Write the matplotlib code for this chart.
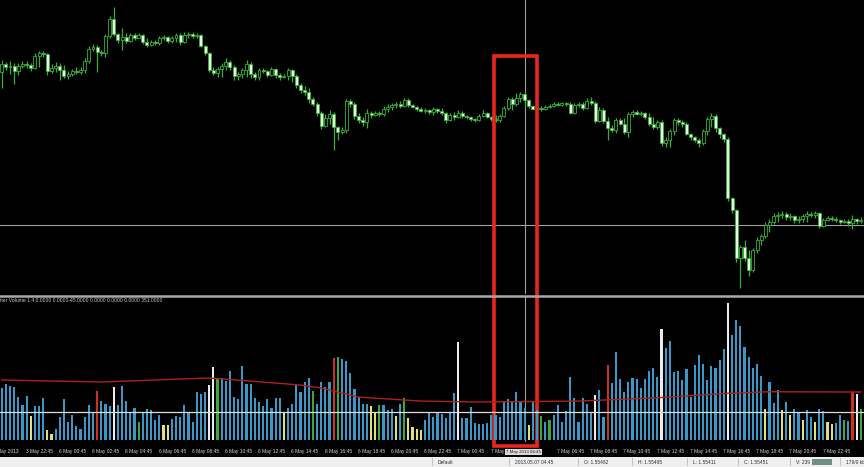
import matplotlib.pyplot as plt
import matplotlib.transforms as mtransforms
from matplotlib.patches import Rectangle
from matplotlib.lines import Line2D

plt.rcParams['font.family'] = ['Liberation Sans', 'DejaVu Sans']

# ----------------------------
# データ（GBPUSD 15分足）
# ----------------------------
opens = [1.55590, 1.55630, 1.55615, 1.55620, 1.55595, 1.55620, 1.55630, 1.55625, 1.55610, 1.55670,
         1.55685, 1.55680, 1.55595, 1.55610, 1.55620, 1.55600, 1.55570, 1.55580, 1.55595, 1.55590,
         1.55600, 1.55645, 1.55705, 1.55715, 1.55690, 1.55685, 1.55770, 1.55855, 1.55780, 1.55750,
         1.55765, 1.55745, 1.55775, 1.55760, 1.55775, 1.55740, 1.55725, 1.55740, 1.55735, 1.55760,
         1.55765, 1.55745, 1.55760, 1.55775, 1.55740, 1.55775, 1.55780, 1.55770, 1.55775, 1.55720,
         1.55685, 1.55600, 1.55585, 1.55605, 1.55620, 1.55640, 1.55615, 1.55570, 1.55580, 1.55600,
         1.55630, 1.55580, 1.55565, 1.55600, 1.55595, 1.55575, 1.55605, 1.55575, 1.55565, 1.55570,
         1.55600, 1.55570, 1.55525, 1.55500, 1.55490, 1.55455, 1.55430, 1.55385, 1.55320, 1.55360,
         1.55380, 1.55315, 1.55290, 1.55300, 1.55445, 1.55430, 1.55370, 1.55350, 1.55340, 1.55385,
         1.55375, 1.55385, 1.55380, 1.55405, 1.55415, 1.55425, 1.55430, 1.55420, 1.55450, 1.55425,
         1.55415, 1.55405, 1.55395, 1.55400, 1.55390, 1.55405, 1.55395, 1.55385, 1.55350, 1.55375,
         1.55365, 1.55385, 1.55370, 1.55365, 1.55355, 1.55350, 1.55370, 1.55385, 1.55365, 1.55355,
         1.55350, 1.55370, 1.55410, 1.55455, 1.55430, 1.55460, 1.55482, 1.55450, 1.55420, 1.55405,
         1.55410, 1.55405, 1.55415, 1.55420, 1.55430, 1.55425, 1.55435, 1.55430, 1.55385, 1.55425,
         1.55430, 1.55410, 1.55445, 1.55435, 1.55345, 1.55400, 1.55345, 1.55310, 1.55300, 1.55350,
         1.55330, 1.55290, 1.55380, 1.55390, 1.55380, 1.55385, 1.55365, 1.55330, 1.55315, 1.55340,
         1.55235, 1.55250, 1.55295, 1.55350, 1.55340, 1.55330, 1.55280, 1.55265, 1.55250, 1.55235,
         1.55295, 1.55355, 1.55370, 1.55310, 1.55280, 1.55255, 1.54960, 1.54900, 1.54660, 1.54715,
         1.54660, 1.54600, 1.54700, 1.54750, 1.54770, 1.54825, 1.54840, 1.54870, 1.54875, 1.54880,
         1.54865, 1.54870, 1.54850, 1.54855, 1.54870, 1.54880, 1.54875, 1.54885, 1.54820, 1.54850,
         1.54860, 1.54855, 1.54850, 1.54840, 1.54845, 1.54835, 1.54855, 1.54845]
highs = [1.55650, 1.55640, 1.55645, 1.55635, 1.55635, 1.55645, 1.55645, 1.55635, 1.55685, 1.55695,
         1.55695, 1.55685, 1.55630, 1.55640, 1.55635, 1.55625, 1.55595, 1.55605, 1.55615, 1.55615,
         1.55660, 1.55720, 1.55730, 1.55725, 1.55700, 1.55780, 1.55870, 1.55915, 1.55785, 1.55810,
         1.55785, 1.55785, 1.55785, 1.55785, 1.55780, 1.55760, 1.55750, 1.55750, 1.55770, 1.55775,
         1.55770, 1.55770, 1.55785, 1.55785, 1.55790, 1.55790, 1.55790, 1.55785, 1.55780, 1.55725,
         1.55690, 1.55615, 1.55615, 1.55635, 1.55660, 1.55650, 1.55625, 1.55590, 1.55610, 1.55650,
         1.55640, 1.55590, 1.55610, 1.55610, 1.55600, 1.55615, 1.55610, 1.55585, 1.55580, 1.55610,
         1.55605, 1.55580, 1.55535, 1.55520, 1.55510, 1.55465, 1.55440, 1.55395, 1.55380, 1.55400,
         1.55390, 1.55320, 1.55315, 1.55455, 1.55455, 1.55440, 1.55385, 1.55365, 1.55405, 1.55395,
         1.55395, 1.55395, 1.55420, 1.55430, 1.55435, 1.55440, 1.55445, 1.55460, 1.55460, 1.55430,
         1.55420, 1.55415, 1.55410, 1.55405, 1.55415, 1.55410, 1.55410, 1.55390, 1.55385, 1.55390,
         1.55400, 1.55395, 1.55375, 1.55370, 1.55360, 1.55380, 1.55400, 1.55390, 1.55370, 1.55375,
         1.55380, 1.55420, 1.55465, 1.55465, 1.55485, 1.55490, 1.55495, 1.55455, 1.55425, 1.55420,
         1.55420, 1.55425, 1.55430, 1.55440, 1.55440, 1.55440, 1.55440, 1.55440, 1.55435, 1.55440,
         1.55440, 1.55460, 1.55465, 1.55445, 1.55415, 1.55410, 1.55365, 1.55325, 1.55360, 1.55360,
         1.55360, 1.55390, 1.55400, 1.55400, 1.55395, 1.55390, 1.55385, 1.55365, 1.55350, 1.55350,
         1.55265, 1.55305, 1.55360, 1.55360, 1.55350, 1.55340, 1.55285, 1.55270, 1.55260, 1.55305,
         1.55365, 1.55385, 1.55380, 1.55315, 1.55285, 1.55265, 1.54965, 1.54905, 1.54725, 1.54750,
         1.54700, 1.54710, 1.54765, 1.54780, 1.54840, 1.54855, 1.54885, 1.54890, 1.54895, 1.54890,
         1.54885, 1.54875, 1.54870, 1.54880, 1.54895, 1.54890, 1.54895, 1.54890, 1.54860, 1.54870,
         1.54870, 1.54865, 1.54855, 1.54855, 1.54855, 1.54875, 1.54860, 1.54865]
lows = [1.55510, 1.55600, 1.55580, 1.55530, 1.55575, 1.55610, 1.55610, 1.55595, 1.55605, 1.55615,
        1.55665, 1.55575, 1.55585, 1.55590, 1.55550, 1.55560, 1.55555, 1.55570, 1.55580, 1.55580,
        1.55585, 1.55635, 1.55695, 1.55590, 1.55670, 1.55665, 1.55760, 1.55770, 1.55735, 1.55700,
        1.55735, 1.55740, 1.55750, 1.55760, 1.55730, 1.55715, 1.55720, 1.55725, 1.55725, 1.55750,
        1.55735, 1.55735, 1.55740, 1.55725, 1.55735, 1.55760, 1.55760, 1.55760, 1.55715, 1.55675,
        1.55590, 1.55575, 1.55565, 1.55565, 1.55600, 1.55600, 1.55550, 1.55550, 1.55560, 1.55565,
        1.55560, 1.55550, 1.55550, 1.55585, 1.55565, 1.55570, 1.55560, 1.55550, 1.55560, 1.55550,
        1.55540, 1.55510, 1.55485, 1.55475, 1.55435, 1.55420, 1.55370, 1.55305, 1.55315, 1.55330,
        1.55200, 1.55250, 1.55280, 1.55285, 1.55415, 1.55355, 1.55335, 1.55320, 1.55310, 1.55360,
        1.55370, 1.55370, 1.55370, 1.55390, 1.55400, 1.55410, 1.55410, 1.55415, 1.55415, 1.55410,
        1.55395, 1.55390, 1.55385, 1.55380, 1.55375, 1.55385, 1.55375, 1.55335, 1.55345, 1.55350,
        1.55360, 1.55360, 1.55355, 1.55345, 1.55340, 1.55345, 1.55365, 1.55360, 1.55345, 1.55340,
        1.55340, 1.55365, 1.55400, 1.55400, 1.55420, 1.55440, 1.55411, 1.55410, 1.55400, 1.55400,
        1.55395, 1.55400, 1.55410, 1.55415, 1.55420, 1.55420, 1.55420, 1.55380, 1.55380, 1.55415,
        1.55400, 1.55405, 1.55425, 1.55335, 1.55340, 1.55335, 1.55250, 1.55290, 1.55285, 1.55325,
        1.55280, 1.55265, 1.55365, 1.55375, 1.55370, 1.55355, 1.55320, 1.55305, 1.55305, 1.55220,
        1.55215, 1.55215, 1.55275, 1.55325, 1.55315, 1.55275, 1.55250, 1.55240, 1.55215, 1.55225,
        1.55275, 1.55315, 1.55290, 1.55260, 1.55240, 1.54945, 1.54885, 1.54640, 1.54510, 1.54645,
        1.54570, 1.54590, 1.54685, 1.54725, 1.54760, 1.54790, 1.54830, 1.54840, 1.54860, 1.54850,
        1.54850, 1.54835, 1.54835, 1.54840, 1.54840, 1.54865, 1.54860, 1.54810, 1.54815, 1.54845,
        1.54845, 1.54840, 1.54830, 1.54835, 1.54820, 1.54805, 1.54830, 1.54835]
closes = [1.55630, 1.55615, 1.55620, 1.55595, 1.55620, 1.55630, 1.55625, 1.55610, 1.55670, 1.55685,
          1.55680, 1.55595, 1.55610, 1.55620, 1.55600, 1.55570, 1.55580, 1.55595, 1.55590, 1.55600,
          1.55645, 1.55705, 1.55715, 1.55690, 1.55685, 1.55770, 1.55855, 1.55780, 1.55750, 1.55765,
          1.55745, 1.55775, 1.55760, 1.55775, 1.55740, 1.55725, 1.55740, 1.55735, 1.55760, 1.55765,
          1.55745, 1.55760, 1.55775, 1.55740, 1.55775, 1.55780, 1.55770, 1.55775, 1.55720, 1.55685,
          1.55600, 1.55585, 1.55605, 1.55620, 1.55640, 1.55615, 1.55570, 1.55580, 1.55600, 1.55630,
          1.55580, 1.55565, 1.55600, 1.55595, 1.55575, 1.55605, 1.55575, 1.55565, 1.55570, 1.55600,
          1.55570, 1.55525, 1.55500, 1.55490, 1.55455, 1.55430, 1.55385, 1.55320, 1.55360, 1.55380,
          1.55315, 1.55290, 1.55300, 1.55445, 1.55430, 1.55370, 1.55350, 1.55340, 1.55385, 1.55375,
          1.55385, 1.55380, 1.55405, 1.55415, 1.55425, 1.55430, 1.55420, 1.55450, 1.55425, 1.55415,
          1.55405, 1.55395, 1.55400, 1.55390, 1.55405, 1.55395, 1.55385, 1.55350, 1.55375, 1.55365,
          1.55385, 1.55370, 1.55365, 1.55355, 1.55350, 1.55370, 1.55385, 1.55365, 1.55355, 1.55350,
          1.55370, 1.55410, 1.55455, 1.55430, 1.55460, 1.55480, 1.55451, 1.55420, 1.55405, 1.55410,
          1.55405, 1.55415, 1.55420, 1.55430, 1.55425, 1.55435, 1.55430, 1.55385, 1.55425, 1.55430,
          1.55410, 1.55445, 1.55435, 1.55345, 1.55400, 1.55345, 1.55310, 1.55300, 1.55350, 1.55330,
          1.55290, 1.55380, 1.55390, 1.55380, 1.55385, 1.55365, 1.55330, 1.55315, 1.55340, 1.55235,
          1.55250, 1.55295, 1.55350, 1.55340, 1.55330, 1.55280, 1.55265, 1.55250, 1.55235, 1.55295,
          1.55355, 1.55370, 1.55310, 1.55280, 1.55255, 1.54960, 1.54900, 1.54660, 1.54715, 1.54660,
          1.54600, 1.54700, 1.54750, 1.54770, 1.54825, 1.54840, 1.54870, 1.54875, 1.54880, 1.54865,
          1.54870, 1.54850, 1.54855, 1.54870, 1.54880, 1.54875, 1.54885, 1.54820, 1.54850, 1.54860,
          1.54855, 1.54850, 1.54840, 1.54845, 1.54835, 1.54855, 1.54845, 1.54850]

# Better Volume（出来高）と色分類  b=青 y=黄 g=緑 r=赤 w=白
volumes = [390, 420, 405, 398, 322, 262, 330, 180, 255, 255,
           315, 75, 45, 82, 172, 308, 135, 188, 105, 82,
           172, 262, 210, 368, 292, 270, 255, 398, 262, 405,
           292, 202, 240, 135, 210, 232, 225, 150, 188, 112,
           112, 158, 180, 172, 262, 202, 135, 360, 345, 360,
           412, 548, 465, 465, 442, 518, 322, 308, 555, 420,
           420, 315, 285, 255, 308, 240, 315, 315, 202, 240,
           270, 412, 360, 435, 465, 368, 270, 435, 398, 435,
           615, 622, 608, 592, 502, 382, 322, 270, 270, 255,
           210, 262, 262, 225, 232, 180, 270, 315, 165, 98,
           82, 75, 150, 202, 172, 202, 195, 165, 210, 352,
           735, 165, 165, 248, 128, 120, 120, 128, 188, 188,
           172, 285, 308, 285, 360, 285, 239, 112, 285, 225,
           180, 135, 150, 188, 262, 135, 218, 472, 315, 135,
           315, 270, 210, 338, 375, 172, 562, 428, 660, 458,
           360, 435, 465, 458, 390, 458, 518, 540, 472, 832,
           690, 742, 510, 518, 450, 532, 322, 562, 638, 570,
           450, 555, 540, 600, 682, 1028, 788, 900, 855, 698,
           622, 540, 570, 480, 232, 435, 278, 375, 225, 285,
           188, 232, 202, 150, 225, 172, 135, 232, 218, 135,
           120, 128, 188, 150, 142, 360, 345, 232]
vol_types = ("bbbbbbbybbbyybbbbbbbbbbrbbbwbbbbbgbbbbbyybbbbbbbbbwwg"
             "bbbbbbbbbbbbbbbybbbbbbgbbbbrgbbbbbbbyygbbbybgyyyybbbbbbbbw"
             "bbbbbbbbbbbbbbbbybbgbgbbbbbbbbbbwbbrbbbbbbbbbbbbw"
             "bbbbbbbbbbbbbbbwbbbbbbbbybbbybybbybbybbyybbgbrwg")

# 出来高の移動平均（赤線）
ma_idx = [0, 24, 50, 60, 72, 77, 86, 101, 115, 139, 157, 175, 185, 205, 207]
ma_val = [450, 435, 465, 442, 412, 390, 322, 292, 285, 292, 315, 350, 362, 360, 360]
vol_level = 210

# 時間軸ラベル（8本ごと）
label_idx = [-2, 6, 14, 22, 30, 38, 46, 54, 62, 70, 78, 86, 94, 102, 110, 118,
             134, 142, 150, 158, 166, 174, 182, 190, 198]
time_labels = ["3 May 2013", "3 May 22:45", "6 May 00:45", "6 May 02:45", "6 May 04:45",
               "6 May 06:45", "6 May 08:45", "6 May 10:45", "6 May 12:45", "6 May 14:45",
               "6 May 16:45", "6 May 18:45", "6 May 20:45", "6 May 22:45", "7 May 00:45",
               "7 May 02:45", "7 May 06:45", "7 May 08:45", "7 May 10:45", "7 May 12:45",
               "7 May 14:45", "7 May 16:45", "7 May 18:45", "7 May 20:45", "7 May 22:45"]

cross_idx = 126          # 2013.05.07 04:45
cross_price = 1.54825
box_left, box_right = 118.7, 129.1
box_top_price = 1.55670

# ----------------------------
# 描画
# ----------------------------
W, H = 864, 467
fig = plt.figure(figsize=(8.64, 4.67), dpi=100, facecolor='black')
ax_p = fig.add_axes([0, (H - 294) / H, 1, 294 / H])
ax_v = fig.add_axes([0, (H - 442) / H, 1, (442 - 297) / H])
for ax in (ax_p, ax_v):
    ax.set_facecolor('black')
    ax.set_xlim(-0.41, 207.78)
    ax.axis('off')
ax_p.set_ylim(1.5448, 1.5595)
ax_v.set_ylim(-15, 1072.5)

green = '#34b034'
n = len(closes)
xs = list(range(n))
ax_p.vlines(xs, lows, highs, color=green, lw=0.9, zorder=2)
for i in range(n):
    o, c = opens[i], closes[i]
    face = 'black' if c > o else '#e6f6e2'
    ax_p.bar(i, max(abs(c - o), 0.000001), bottom=min(o, c), width=0.72,
             facecolor=face, edgecolor=green, linewidth=0.6, zorder=3)

# 十字線
ax_p.axhline(cross_price, color='#a0a0a0', lw=0.8, zorder=1)
ax_p.axvline(cross_idx, color='#a0a0a0', lw=0.8, zorder=1)
ax_v.axvline(cross_idx, color='#a0a0a0', lw=0.8, zorder=1)

# 出来高バー
color_map = {'b': '#3a98c8', 'y': '#e4de78', 'g': '#3aa83a', 'r': '#d2301f', 'w': '#ececec'}
ax_v.bar(xs, volumes, width=0.52, color=[color_map[t] for t in vol_types], zorder=2)
ax_v.plot(ma_idx, ma_val, color='#b0201c', lw=1.0, zorder=3)
ax_v.axhline(vol_level, color='#dcdcdc', lw=0.9, zorder=4)

# ペイン区切り線
fig.add_artist(Line2D([0, 1], [(H - 295.5) / H] * 2, color='#a8a8a8', lw=1.8))
fig.text(0.0, (H - 300) / H,
         "tter Volume 1.4 0.0000 0.0000-45.0000 0.0000 0.0000 0.0000 351.0000",
         color='#c8c8c8', fontsize=3.6, va='center', ha='left')

# 時間軸ラベル
trans_lbl = mtransforms.blended_transform_factory(ax_v.transData, fig.transFigure)
for idx, lbl in zip(label_idx, time_labels):
    ax_v.text(idx - 0.2, (H - 452) / H, lbl, transform=trans_lbl, color='#d8d8d8',
              fontsize=3.5, ha='left', va='center', clip_on=False)
ax_v.text(cross_idx - 0.3, (H - 452) / H, "7 May 2013 04:45", transform=trans_lbl,
          color='#202020', fontsize=3.2, ha='center', va='center', clip_on=False,
          bbox=dict(boxstyle='square,pad=0.15', fc='#d8d8d8', ec='none'))

# ステータスバー
fig.add_artist(Rectangle((0, 0), 1, (H - 456.5) / H, transform=fig.transFigure,
                         facecolor='#efefef', edgecolor='none'))
status = [(438, "Default"), (515, "2013.05.07 04:45"), (584, "O: 1.55482"),
          (638, "H: 1.55495"), (693, "L: 1.55411"), (744, "C: 1.55451"),
          (796, "V: 239"), (846, "179/0 kb")]
for px, txt in status:
    fig.text(px / W, (H - 462) / H, txt, color='#303030', fontsize=3.5, va='center')
    fig.add_artist(Line2D([(px - 6) / W] * 2, [0.004, (H - 458) / H], color='#b8b8b8', lw=0.6))
fig.add_artist(Rectangle((812 / W, (H - 465) / H), 20 / W, 6 / H, transform=fig.transFigure,
                         facecolor='#6f8f86', edgecolor='none'))

# 強調枠（赤）
trans_box = mtransforms.blended_transform_factory(ax_p.transData, fig.transFigure)
top_frac = (H - (1.5595 - box_top_price) * 20000) / H
ax_p.add_patch(Rectangle((box_left, (H - 445.5) / H), box_right - box_left,
                         top_frac - (H - 445.5) / H, transform=trans_box,
                         fill=False, edgecolor='#e8261c', lw=2.6, clip_on=False, zorder=10))

plt.savefig('out.png', dpi=100, facecolor='black')
